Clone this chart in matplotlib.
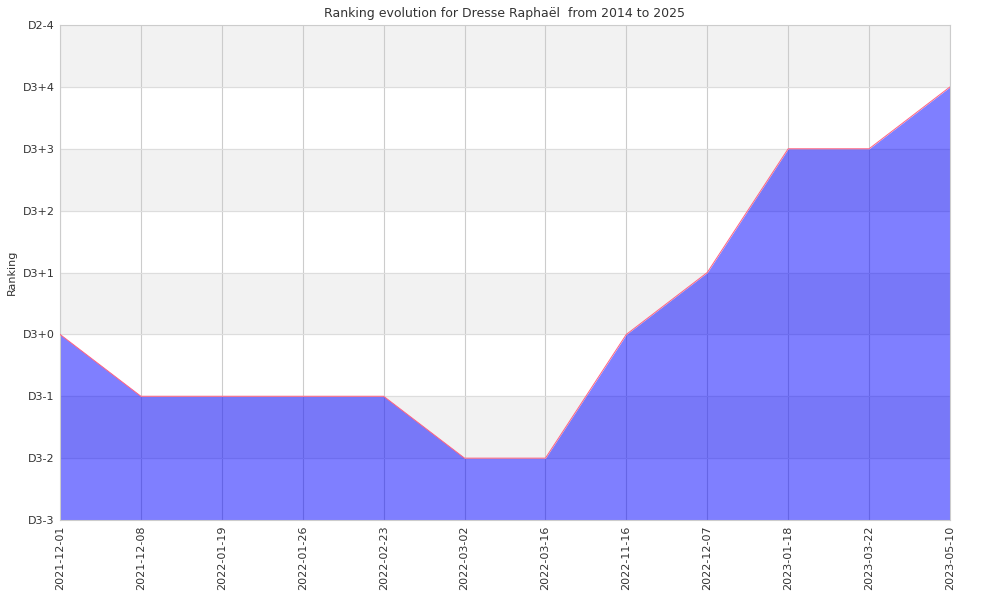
import matplotlib
matplotlib.use('Agg')
import matplotlib.pyplot as plt

# Données
dates = ['2021-12-01', '2021-12-08', '2022-01-19', '2022-01-26', '2022-02-23',
         '2022-03-02', '2022-03-16', '2022-11-16', '2022-12-07', '2023-01-18',
         '2023-03-22', '2023-05-10']
niveaux = ['D3-3', 'D3-2', 'D3-1', 'D3+0', 'D3+1', 'D3+2', 'D3+3', 'D3+4', 'D2-4']
classement = [3, 2, 2, 2, 2, 1, 1, 3, 4, 6, 6, 7]

fig = plt.figure(figsize=(10, 6), dpi=100)
ax = fig.add_axes([0.06, 0.1333, 0.89, 0.825])

x = list(range(len(dates)))
ax.set_xlim(0, len(dates) - 1)
ax.set_ylim(0, len(niveaux) - 1)

# Bandes alternées
for i in range(0, len(niveaux) - 1):
    if (len(niveaux) - 2 - i) % 2 == 0:
        ax.axhspan(i, i + 1, color='#f2f2f2', zorder=0)

ax.xaxis.grid(True, color='#cccccc', linewidth=0.8)
ax.yaxis.grid(True, color='#dddddd', linewidth=0.8)
ax.set_axisbelow(True)

ax.fill_between(x, 0, classement, color=(0, 0, 1, 0.5), linewidth=0, zorder=2)
ax.plot(x, classement, color='#ff6080', linewidth=0.7, zorder=3)

ax.set_xticks(x)
ax.set_xticklabels(dates, rotation=90, fontsize=8, color='#333333')
ax.set_yticks(range(len(niveaux)))
ax.set_yticklabels(niveaux, fontsize=8, color='#333333')
ax.tick_params(length=0, pad=4)
for s in ax.spines.values():
    s.set_color('#cccccc')

ax.set_ylabel('Ranking', fontsize=8, color='#333333')
ax.set_title('Ranking evolution for Dresse Raphaël  from 2014 to 2025', fontsize=9, color='#333333', pad=6)

fig.savefig('out.png', dpi=100)
